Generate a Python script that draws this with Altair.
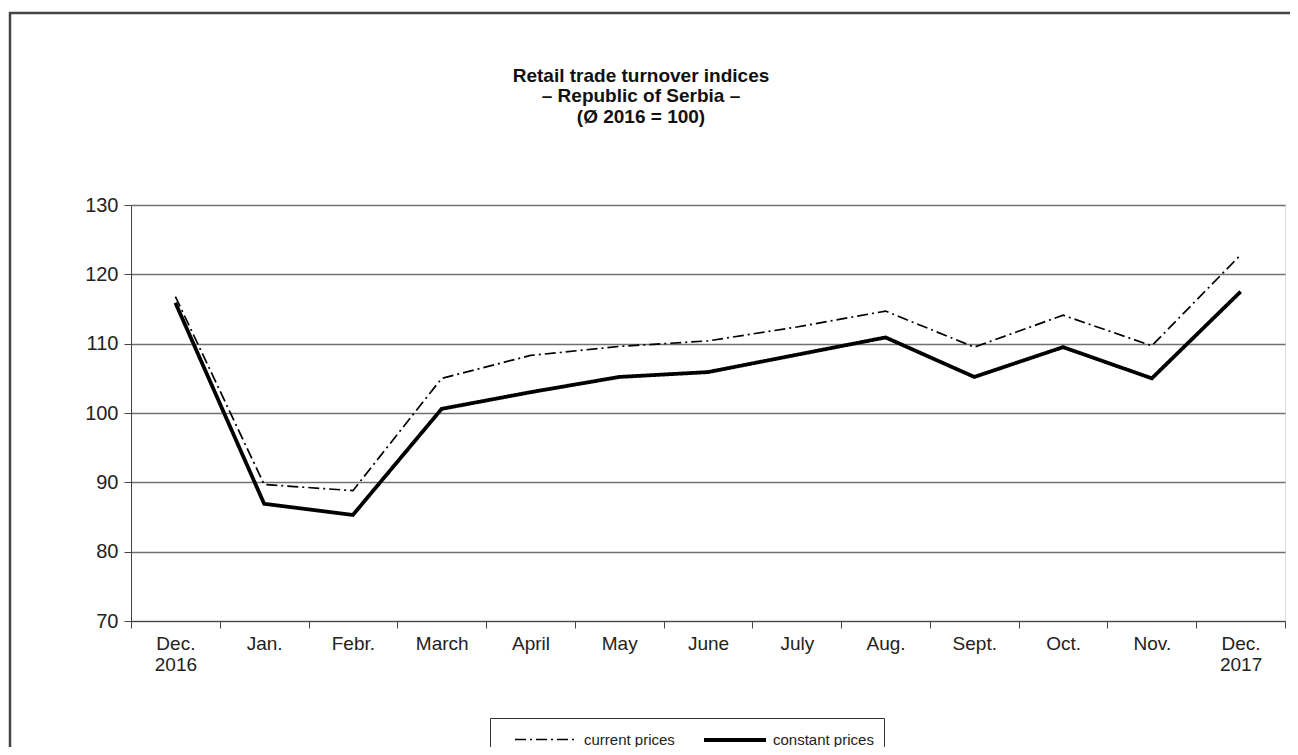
import altair as alt
import pandas as pd

months = ["Dec.|2016", "Jan.", "Febr.", "March", "April", "May", "June",
          "July", "Aug.", "Sept.", "Oct.", "Nov.", "Dec.|2017"]
current_prices = [116.8, 89.7, 88.8, 105.0, 108.3, 109.6, 110.4, 112.4,
                  114.7, 109.5, 114.1, 109.7, 122.8]
constant_prices = [115.9, 86.9, 85.3, 100.6, 103.0, 105.2, 105.9, 108.4,
                   110.9, 105.2, 109.5, 105.0, 117.5]
series = ["current prices", "constant prices"]

rows = []
for m, v in zip(months, current_prices):
    rows.append({"month": m, "value": v, "series": series[0]})
for m, v in zip(months, constant_prices):
    rows.append({"month": m, "value": v, "series": series[1]})
df = pd.DataFrame(rows)

W, H = 1154, 416
FONT = "Liberation Sans"

legend = alt.Legend(
    title=None, orient="none", legendX=359, legendY=513, direction="horizontal",
    columns=2, symbolType="M0.3,0L6.5,0", symbolSize=400, symbolStrokeColor="black",
    labelFont=FONT, labelFontSize=15, labelColor="#222",
    strokeColor="#333", fillColor="white", padding=10, columnPadding=14,
    labelOffset=60, offset=0,
)

lines = alt.Chart(df).mark_line(strokeCap="butt", strokeJoin="miter").encode(
    x=alt.X("month:N", sort=months, bandPosition=0.5,
            scale=alt.Scale(type="band", paddingInner=0, paddingOuter=0),
            axis=alt.Axis(title=None, tickBand="extent", labelExpr="split(datum.label, '|')",
                          labelFont=FONT, labelFontSize=19, labelColor="#222",
                          labelLineHeight=21, labelPadding=6, tickSize=7,
                          tickColor="#444", domainColor="#444", labelAngle=0,
                          grid=False, labelBaseline="top")),
    y=alt.Y("value:Q", scale=alt.Scale(domain=[70, 130], nice=False, zero=False),
            axis=alt.Axis(title=None, values=[70, 80, 90, 100, 110, 120, 130],
                          labelFont=FONT, labelFontSize=20, labelColor="#222",
                          labelPadding=6, tickSize=7, tickColor="#444",
                          domainColor="#444", grid=True, gridColor="#707070",
                          gridWidth=1.5)),
    color=alt.Color("series:N", scale=alt.Scale(domain=series, range=["black", "black"]),
                    legend=legend),
    strokeDash=alt.StrokeDash("series:N", scale=alt.Scale(domain=series, range=[[11, 4, 2, 4], [1, 0]]),
                              legend=legend),
    strokeWidth=alt.StrokeWidth("series:N", scale=alt.Scale(domain=series, range=[1.7, 3.8]),
                                legend=legend),
)

frame = alt.Chart(alt.Data(values=[{}])).mark_rect(
    fill=None, stroke="#444", strokeWidth=2.5
).encode(
    x=alt.value(-121), x2=alt.value(1170), y=alt.value(-192), y2=alt.value(700)
)

chart = alt.layer(frame, lines).properties(
    width=W, height=H,
    autosize=alt.AutoSizeParams(type="none"),
    padding={"left": 123, "top": 197, "right": 5, "bottom": 126},
    title=alt.TitleParams(
        text=["Retail trade turnover indices", "– Republic of Serbia –", "(Ø 2016 = 100)"],
        font=FONT, fontSize=19, fontWeight="bold", color="#111", anchor="middle",
        dx=-67, offset=-115, lineHeight=20.5,
    ),
).configure_view(stroke="#888", strokeWidth=1.5).configure(background="white")

chart.save("out.html", embed_options={"renderer": "svg", "actions": False})
